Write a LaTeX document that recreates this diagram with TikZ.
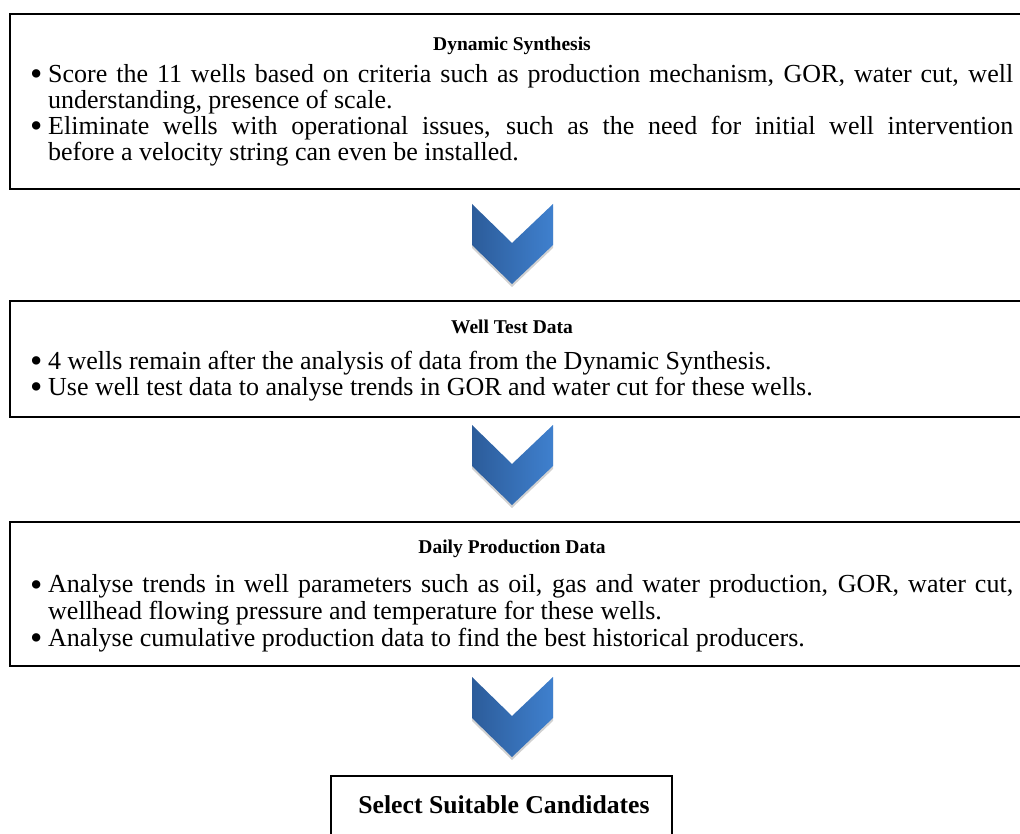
\documentclass[tikz,border=0pt]{standalone}
\usepackage{fontspec}
\setmainfont{Liberation Serif}
\definecolor{cL}{HTML}{2C5C9A}
\definecolor{cR}{HTML}{3F80CE}
\newcommand\bul{\par\noindent\hangindent=15pt\hangafter=1\makebox[15pt][l]{\hspace*{-3pt}\smash{\raisebox{-3.5pt}{\scalebox{1.35}{\textbullet}}}}}
\newcommand\chevpath{(-40,0) -- (0,39) -- (41,0) -- (41,41) -- (0,80) -- (-40,41) -- cycle}
\begin{document}
\begin{tikzpicture}[x=1pt,y=-1pt,
  box/.style={draw=black,line width=1.6pt,inner sep=0pt,anchor=north west},
  ttl/.style={font=\bfseries\fontsize{19.5}{24}\selectfont,inner sep=0pt},
  body/.style={anchor=north west,inner sep=0pt,text width=980pt,align=justify,font=\fontsize{26}{26}\selectfont},
  shad/.style={fill=black!18},
  chev/.style={left color=cL,right color=cR}]
\useasboundingbox (0,0) rectangle (1020,834);
\clip (0,0) rectangle (1020,834);
% boxes
\node[box,minimum width=1030pt,minimum height=175pt] (b1) at (9,13) {};
\node[box,minimum width=1030pt,minimum height=116pt] (b2) at (9,300) {};
\node[box,minimum width=1030pt,minimum height=144pt] (b3) at (9,521) {};
\node[box,minimum width=341pt,minimum height=80pt] (b4) at (330,775) {};
% titles
\node[ttl] (t1) at (512,46) {Dynamic Synthesis};
\node[ttl] (t2) at (512,327) {Well Test Data};
\node[ttl] (t3) at (512,549) {Daily Production Data};
\node[ttl,font=\bfseries\fontsize{25.7}{28}\selectfont] (t4) at (504,805) {Select Suitable Candidates};
% bodies
\node[body] (x1) at (33,56) {\bul Score the 11 wells based on criteria such as production mechanism, GOR, water cut, well\linebreak understanding, presence of scale.
\bul Eliminate wells with operational issues, such as the need for initial well intervention\linebreak before a velocity string can even be installed.\par};
\node[body] (x2) at (33,343) {\bul 4 wells remain after the analysis of data from the Dynamic Synthesis.
\bul Use well test data to analyse trends in GOR and water cut for these wells.\par};
\node[body,font=\fontsize{26}{26.7}\selectfont] (x3) at (33,566) {\bul Analyse trends in well parameters such as oil, gas and water production, GOR, water cut,\linebreak wellhead flowing pressure and temperature for these wells.
\bul Analyse cumulative production data to find the best historical producers.\par};
% chevrons
\coordinate (c1) at (512,204);
\coordinate (c2) at (512,425);
\coordinate (c3) at (512,677);
\foreach \c in {c1,c2,c3}{
  \begin{scope}[shift={(\c)}]
    \fill[shad,shift={(0,3)}] \chevpath;
    \shade[chev] \chevpath;
  \end{scope}
}
\end{tikzpicture}
\end{document}
